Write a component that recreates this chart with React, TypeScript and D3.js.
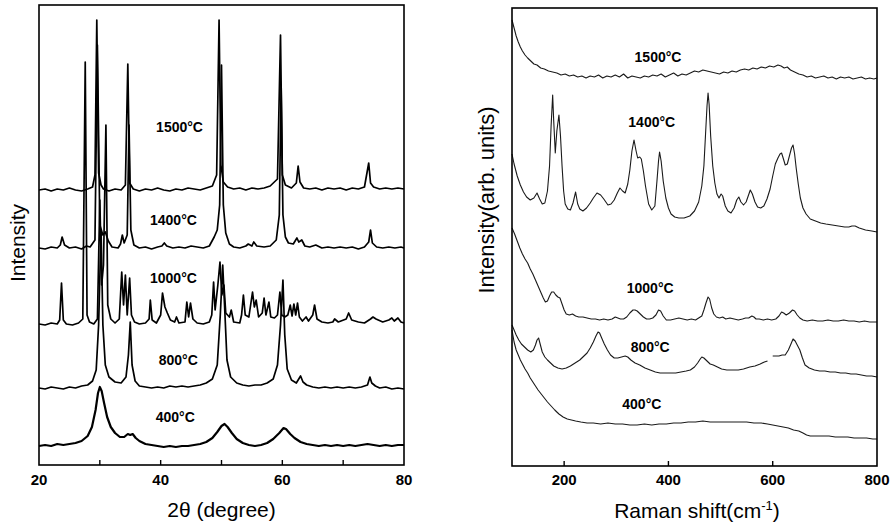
import React from 'react';
import * as d3 from 'd3';

type Pt = [number, number | null];

// XRD patterns, 2θ (degree) vs intensity (arbitrary, stacked)
const xrdNames = ['1500°C', '1400°C', '1000°C', '800°C', '400°C'];

const xrd1500: Pt[] = [
  [20, 275], [21, 276], [22, 274], [23, 276], [24, 275], [25, 277], [26, 275], [27, 274], [28, 276],
  [28.8, 278], [29.2, 290], [29.5, 445], [29.8, 292], [30.2, 280], [30.6, 276], [31.5, 274], [32.5, 276],
  [33.5, 275], [34.2, 280], [34.6, 401], [34.9, 282], [35.5, 276], [36.5, 274], [37.5, 276], [38.5, 275],
  [39.5, 277], [40.5, 275], [41.5, 274], [42.5, 276], [43.5, 275], [44.5, 277], [45.5, 276], [46.5, 275],
  [47.5, 277], [48.5, 279], [49.2, 290], [49.6, 445], [49.9, 300], [50.3, 283], [51, 278], [52, 276],
  [53, 277], [54, 275], [55, 277], [56, 276], [57, 277], [58, 279], [59.2, 286], [59.7, 430], [60.0, 290],
  [60.5, 280], [61.5, 277], [62.3, 282], [62.6, 299], [62.9, 283], [63.5, 277], [64.5, 276], [65.5, 277],
  [66.5, 275], [67.5, 277], [68.5, 276], [69.5, 277], [70.5, 275], [71.5, 277], [72.5, 276], [73.5, 278],
  [74.2, 302], [74.5, 282], [75, 278], [76, 276], [77, 277], [78, 276], [79, 277], [80, 276],
];

const xrd1400: Pt[] = [
  [20, 217], [21, 216], [22, 218], [23, 217], [23.5, 220], [23.8, 228], [24.2, 220], [25, 217], [26, 218],
  [27, 216], [27.8, 219], [28.4, 218], [29.2, 225], [29.6, 420], [30.0, 240], [30.5, 230], [30.9, 233],
  [31.4, 224], [32, 218], [33, 217], [33.4, 221], [33.7, 230], [34.0, 222], [34.5, 230], [34.8, 340],
  [35.1, 235], [35.6, 220], [36.5, 217], [37.5, 218], [38.5, 216], [39.5, 218], [40.2, 219], [40.6, 222],
  [41, 219], [42, 217], [43, 218], [44, 217], [45, 219], [46, 218], [47, 217], [48, 219], [48.8, 228],
  [49.3, 235], [49.7, 260], [50.0, 400], [50.3, 260], [50.7, 232], [51.3, 221], [52, 218], [53, 217],
  [54, 219], [54.4, 221], [55, 219], [55.3, 223], [55.8, 219], [57, 218], [58, 219], [59, 225], [59.5, 250],
  [59.8, 380], [60.1, 250], [60.5, 228], [61, 222], [61.8, 221], [62.4, 227], [62.7, 223], [63.2, 225],
  [63.7, 219], [64.5, 218], [65.5, 220], [66.5, 217], [67.5, 218], [68.5, 217], [69.5, 218], [70.5, 217],
  [71.5, 218], [72.5, 216], [73.5, 218], [74.2, 223], [74.5, 235], [74.8, 222], [75.5, 218], [76.5, 217],
  [77.5, 218], [78.5, 217], [79.5, 218], [80, 217],
];

const xrd1000: Pt[] = [
  [20, 141], [21, 140], [22, 142], [23, 141], [23.4, 145], [23.7, 182], [24.0, 145], [24.5, 141],
  [25.5, 140], [26.5, 142], [27.2, 146], [27.6, 403], [27.9, 150], [28.3, 143], [29, 141], [29.6, 146],
  [30.0, 265], [30.3, 180], [30.6, 200], [31.0, 340], [31.3, 160], [31.8, 146], [32.5, 142], [33.2, 146],
  [33.6, 193], [33.9, 160], [34.2, 190], [34.5, 150], [34.9, 187], [35.2, 150], [35.7, 143], [36.5, 141],
  [37.5, 142], [38.1, 146], [38.3, 165], [38.6, 145], [39.3, 142], [40.0, 150], [40.3, 172], [40.7, 158],
  [41.1, 152], [41.6, 145], [42.3, 143], [42.6, 148], [43, 142], [44, 143], [44.3, 163], [44.6, 148],
  [44.9, 162], [45.3, 146], [46, 142], [47, 141], [48, 143], [48.4, 150], [48.7, 183], [48.95, 155],
  [49.4, 180], [49.75, 203], [50.05, 170], [50.4, 180], [50.7, 152], [51.3, 148], [51.6, 155], [52, 143],
  [53, 142], [53.3, 150], [53.6, 170], [53.9, 150], [54.5, 148], [55.1, 173], [55.4, 158], [55.7, 165],
  [56.1, 148], [56.7, 152], [57.0, 167], [57.3, 150], [57.8, 163], [58.1, 148], [58.7, 147], [59.2, 150],
  [59.6, 173], [59.9, 150], [60.4, 148], [60.9, 150], [61.3, 160], [61.6, 149], [61.9, 161], [62.2, 150],
  [62.5, 162], [62.8, 148], [63.3, 144], [63.9, 148], [64.3, 144], [65.0, 150], [65.3, 160], [65.7, 146],
  [66.5, 143], [67.5, 142], [68.3, 143], [68.6, 146], [69.2, 143], [70.5, 146], [70.9, 152], [71.4, 145],
  [72.5, 143], [73.5, 142], [74.5, 146], [74.9, 148], [75.4, 146], [76.5, 143], [77.5, 145], [78.0, 147],
  [78.4, 144], [79.0, 147], [79.5, 143], [80, 142],
];

const xrd800: Pt[] = [
  [20, 77], [21, 76], [22, 78], [23, 77], [24, 76], [25, 78], [26, 77], [27, 79], [28, 80], [28.8, 84],
  [29.4, 95], [29.8, 140], [30.2, 235], [30.5, 140], [30.9, 100], [31.5, 88], [32.5, 83], [33.5, 82],
  [34.3, 88], [34.7, 110], [35.0, 143], [35.3, 100], [35.8, 84], [36.5, 79], [37.5, 78], [38.5, 77],
  [39.5, 78], [40.5, 77], [41.5, 79], [42.5, 78], [43.5, 79], [44.5, 78], [45.5, 79], [46.5, 80],
  [47.5, 82], [48.5, 86], [49.3, 100], [49.8, 150], [50.2, 200], [50.5, 160], [50.9, 105], [51.5, 88],
  [52.5, 82], [53.5, 80], [54.5, 79], [55.5, 80], [56.5, 80], [57.5, 82], [58.5, 86], [59.2, 100],
  [59.7, 140], [60.1, 185], [60.4, 130], [60.8, 96], [61.5, 85], [62.3, 82], [62.8, 87], [63.0, 89],
  [63.4, 83], [64, 80], [65, 78], [66, 77], [67, 78], [68, 77], [69, 78], [70, 77], [71, 78], [72, 77],
  [73, 78], [74, 80], [74.4, 88], [74.7, 82], [75.3, 79], [76, 77], [77, 78], [78, 76], [79, 77], [80, 76],
];

const xrd400: Pt[] = [
  [20, 19], [21, 20], [22, 19], [23, 21], [24, 20], [25, 21], [26, 22], [27, 24], [28, 29], [28.7, 38],
  [29.3, 55], [29.7, 72], [30.0, 78], [30.3, 74], [30.7, 62], [31.2, 48], [31.8, 38], [32.5, 32],
  [33.3, 28], [34.0, 28], [34.6, 31], [35.0, 30], [35.4, 31], [35.9, 27], [36.5, 24], [37.5, 21],
  [38.5, 20], [39.5, 19], [40.5, 18], [41.5, 19], [42.5, 18], [43.5, 19], [44.5, 19], [45.5, 20],
  [46.5, 21], [47.5, 23], [48.5, 27], [49.3, 33], [50.0, 39], [50.5, 41], [51.0, 38], [51.7, 32],
  [52.5, 26], [53.5, 22], [54.5, 20], [55.5, 19], [56.5, 20], [57.5, 22], [58.5, 26], [59.5, 32],
  [60.2, 37], [60.6, 36], [61.3, 31], [62, 27], [63, 23], [64, 21], [65, 20], [66, 19], [67, 20],
  [68, 19], [69, 20], [70, 19], [71, 20], [72, 19], [73, 20], [74, 21], [75, 20], [76, 19], [77, 20],
  [78, 19], [79, 20], [80, 20],
];

const xrdSeries = [xrd1500, xrd1400, xrd1000, xrd800, xrd400];
const xrdLabelX = [43.1, 42.1, 42.1, 42.9, 42.4];
const xrdLabelY = [338, 245, 187, 105, 48];
const xrdTicks = [30, 40, 50, 60, 70];
const xrdTickLabels = [20, 40, 60, 80];

// Raman spectra, shift (cm-1) vs intensity (arb. units)
const ramanNames = ['1500°C', '1400°C', '1000°C', '800°C', '400°C'];

const raman1500: Pt[] = [
  [100, 446], [104, 438], [108, 430], [112, 424], [116, 419], [120, 415], [125, 411], [130, 408],
  [136, 405], [142, 402], [148, 401], [155, 398], [162, 397], [170, 395], [178, 394], [186, 393],
  [194, 391], [202, 392], [210, 390], [218, 391], [226, 389], [234, 390], [242, 388], [250, 390],
  [258, 389], [266, 391], [274, 388], [282, 390], [290, 389], [298, 391], [306, 389], [314, 392],
  [322, 388], [330, 390], [338, 389], [346, 388], [354, 390], [362, 389], [370, 391], [378, 390],
  [386, 392], [394, 389], [402, 391], [410, 393], [418, 390], [426, 392], [434, 391], [442, 393],
  [450, 395], [458, 394], [466, 396], [474, 395], [482, 394], [490, 393], [498, 392], [506, 394],
  [514, 393], [522, 395], [530, 394], [538, 396], [546, 397], [554, 396], [562, 398], [570, 397],
  [578, 399], [586, 398], [594, 400], [602, 399], [610, 401], [616, 400], [622, 398], [628, 399],
  [634, 396], [642, 394], [650, 392], [658, 391], [666, 389], [674, 390], [682, 388], [690, 389],
  [698, 390], [706, 388], [714, 389], [722, 387], [730, 389], [738, 388], [746, 389], [754, 387],
  [762, 388], [770, 389], [778, 387], [786, 388], [794, 387], [800, 388],
];

const raman1400: Pt[] = [
  [100, 312], [104, 302], [110, 290], [116, 281], [122, 274], [128, 269], [135, 266], [142, 268],
  [148, 273], [153, 267], [158, 262], [163, 263], [168, 275], [172, 300], [175, 340], [178, 371],
  [180, 345], [183, 313], [186, 335], [190, 351], [193, 330], [196, 300], [199, 275], [202, 262],
  [207, 257], [212, 256], [217, 263], [222, 274], [226, 262], [230, 257], [236, 255], [243, 258],
  [250, 263], [256, 268], [263, 273], [270, 271], [276, 267], [284, 261], [290, 262], [296, 266],
  [302, 273], [307, 278], [312, 275], [317, 273], [322, 282], [326, 296], [330, 315], [334, 326],
  [338, 315], [341, 308], [345, 309], [348, 307], [352, 295], [356, 280], [362, 262], [368, 256],
  [374, 260], [378, 285], [381, 305], [383, 314], [386, 305], [390, 285], [395, 268], [400, 258],
  [405, 252], [412, 249], [420, 248], [430, 248], [441, 250], [450, 255], [458, 264], [464, 280],
  [468, 300], [471, 330], [474, 360], [476, 373], [478, 362], [481, 330], [485, 300], [489, 283],
  [493, 272], [497, 268], [501, 272], [504, 270], [509, 260], [514, 255], [520, 253], [526, 258],
  [531, 266], [535, 269], [539, 264], [544, 261], [549, 264], [553, 270], [557, 276], [561, 272],
  [566, 264], [571, 259], [577, 258], [583, 260], [589, 267], [595, 277], [600, 290], [605, 302],
  [610, 308], [614, 312], [617, 313], [620, 308], [624, 301], [628, 302], [632, 310], [636, 318],
  [639, 321], [642, 312], [645, 298], [649, 282], [653, 268], [658, 258], [664, 252], [672, 247],
  [682, 245], [692, 243], [702, 242], [714, 241], [726, 240], [738, 239], [746, 239], [752, 240],
  [758, 240], [766, 238], [778, 236], [790, 235], [800, 234],
];

const raman1000: Pt[] = [
  [100, 238], [105, 232], [110, 225], [115, 218], [120, 212], [125, 207], [130, 203], [135, 197],
  [140, 192], [145, 186], [150, 180], [155, 174], [160, 168], [164, 164], [168, 165], [172, 170],
  [176, 174], [180, 174], [184, 171], [188, 169], [192, 168], [196, 162], [200, 156], [204, 152],
  [210, 151], [216, 152], [222, 150], [228, 149], [236, 149], [244, 148], [252, 147], [260, 147],
  [268, 146], [276, 147], [284, 146], [292, 147], [298, 149], [303, 148], [308, 147], [314, 147],
  [320, 149], [326, 153], [332, 156], [336, 156], [340, 155], [346, 152], [352, 149], [358, 147],
  [364, 147], [370, 148], [376, 151], [381, 156], [385, 155], [390, 150], [396, 146], [404, 146],
  [412, 147], [420, 148], [428, 147], [436, 146], [444, 147], [452, 146], [458, 148], [464, 150],
  [468, 156], [472, 163], [476, 169], [479, 167], [483, 158], [487, 152], [492, 149], [498, 148],
  [504, 149], [510, 147], [518, 148], [526, 147], [534, 146], [542, 147], [548, 148], [554, 148],
  [560, 150], [564, 149], [568, 147], [574, 147], [582, 146], [590, 147], [598, 146], [606, 147],
  [612, 150], [617, 154], [621, 153], [626, 151], [632, 153], [638, 156], [642, 155], [647, 151],
  [652, 148], [658, 146], [666, 145], [676, 146], [686, 145], [696, 145], [706, 146], [716, 145],
  [726, 145], [736, 146], [746, 145], [756, 145], [766, 144], [776, 145], [786, 144], [800, 144],
];

const raman800: Pt[] = [
  [100, 141], [104, 136], [108, 131], [113, 126], [118, 122], [124, 119], [130, 116], [136, 114],
  [141, 116], [145, 121], [148, 126], [151, 128], [154, 122], [158, 114], [163, 109], [168, 106],
  [174, 103], [180, 100], [188, 98], [196, 97], [204, 98], [212, 100], [221, 103], [230, 106],
  [238, 110], [244, 113], [250, 118], [256, 124], [261, 130], [265, 134], [268, 133], [272, 128],
  [277, 122], [283, 116], [289, 111], [296, 108], [303, 108], [310, 109], [317, 110], [322, 109],
  [328, 106], [336, 103], [345, 101], [355, 98], [365, 96], [375, 94], [384, 93], [394, 93], [404, 93],
  [414, 93], [424, 94], [434, 95], [442, 96], [450, 99], [456, 103], [461, 107], [464, 109], [468, 108],
  [474, 105], [480, 102], [486, 101], [494, 99], [502, 97], [512, 96], [524, 96], [534, 96], [544, 97],
  [556, 99], [566, 100], [576, 102], [584, 104], [590, 105], [591, null], [600, 110], [606, 110],
  [612, 110], [618, 111], [624, 111], [630, 116], [635, 122], [639, 127], [643, 125], [647, 121],
  [652, 116], [657, 108], [662, 101], [670, 98], [680, 96], [690, 95], [700, 95], [710, 94], [720, 94],
  [730, 93], [740, 93], [750, 92], [760, 92], [770, 91], [780, 90], [790, 90], [800, 89],
];

const raman400: Pt[] = [
  [100, 136], [104, 124], [108, 116], [112, 111], [116, 106], [120, 102], [125, 97], [130, 93],
  [135, 88], [140, 84], [145, 80], [150, 76], [156, 72], [162, 68], [168, 64], [175, 60], [182, 56],
  [190, 52], [198, 49], [206, 47], [214, 46], [222, 45], [232, 44], [244, 43], [256, 43], [270, 42],
  [284, 43], [298, 42], [312, 42], [326, 41], [340, 41], [354, 42], [368, 41], [382, 42], [396, 42],
  [410, 43], [424, 43], [438, 44], [452, 44], [466, 45], [480, 44], [494, 44], [508, 44], [522, 44],
  [536, 44], [550, 44], [564, 43], [578, 43], [590, 42], [600, 41], [610, 40], [620, 39], [630, 38],
  [640, 36], [650, 35], [658, 33], [665, 31], [672, 30], [684, 30], [696, 30], [708, 30], [720, 29],
  [732, 29], [744, 29], [756, 28], [768, 28], [780, 28], [792, 27], [800, 27],
];

const ramanSeries = [raman1500, raman1400, raman1000, raman800, raman400];
const ramanLabelX = [380, 368, 365, 365, 349];
const ramanLabelY = [409, 344, 178, 119, 62];
const ramanTicks = [200, 400, 600];
const ramanTickLabels = [200, 400, 600, 800];

const FONT = '"Liberation Sans", Arial, Helvetica, sans-serif';

export default function App() {
  const W = 891;
  const H = 529;

  // left panel: XRD
  const xL = d3.scaleLinear().domain([20, 80]).range([39, 404]);
  const yL = d3.scaleLinear().domain([0, 460]).range([465, 5]);
  // right panel: Raman
  const xR = d3.scaleLinear().domain([100, 800]).range([512, 877]);
  const yR = d3.scaleLinear().domain([0, 458]).range([466, 8]);

  const lineL = d3.line<Pt>()
    .x(d => xL(d[0]))
    .y(d => yL(d[1] as number));
  const lineR = d3.line<Pt>()
    .defined(d => d[1] !== null)
    .x(d => xR(d[0]))
    .y(d => yR(d[1] as number));

  const [l0, l1] = xL.range();
  const [lb, lt] = yL.range();
  const [r0, r1] = xR.range();
  const [rb, rt] = yR.range();

  return (
    <svg width={W} height={H} style={{ position: 'absolute', left: 0, top: 0, background: '#fff' }}
      fontFamily={FONT}>
      {/* XRD panel */}
      <g>
        {xrdSeries.map((s, i) => (
          <path key={i} d={lineL(s) || ''} fill="none" stroke="#000"
            strokeWidth={i === 4 ? 2.2 : 1.7} strokeLinejoin="round" />
        ))}
        {xrdNames.map((n, i) => (
          <text key={n} x={xL(xrdLabelX[i])} y={yL(xrdLabelY[i])} dy="0.36em" textAnchor="middle"
            fontSize={14} fontWeight="bold">{n}</text>
        ))}
        <rect x={l0} y={lt} width={l1 - l0} height={lb - lt} fill="none" stroke="#000" strokeWidth={1.6} />
        {xrdTicks.map(t => (
          <line key={t} x1={xL(t)} x2={xL(t)} y1={lb} y2={lb - 5} stroke="#000" strokeWidth={1.4} />
        ))}
        {xrdTickLabels.map(t => (
          <text key={t} x={xL(t)} y={485} textAnchor="middle" fontSize={15} fontWeight="bold">{t}</text>
        ))}
        <text x={(l0 + l1) / 2} y={517} textAnchor="middle" fontSize={21}>2θ (degree)</text>
        <text transform={`translate(25,243) rotate(-90)`} textAnchor="middle" fontSize={21}>Intensity</text>
      </g>

      {/* Raman panel */}
      <g>
        {ramanSeries.map((s, i) => (
          <path key={i} d={lineR(s) || ''} fill="none" stroke="#1a1a1a" strokeWidth={1.1}
            strokeLinejoin="round" />
        ))}
        {ramanNames.map((n, i) => (
          <text key={n} x={xR(ramanLabelX[i])} y={yR(ramanLabelY[i])} dy="0.36em" textAnchor="middle"
            fontSize={14} fontWeight="bold">{n}</text>
        ))}
        <rect x={r0} y={rt} width={r1 - r0} height={rb - rt} fill="none" stroke="#000" strokeWidth={1.6} />
        {ramanTicks.map(t => (
          <line key={t} x1={xR(t)} x2={xR(t)} y1={rb} y2={rb - 5} stroke="#000" strokeWidth={1.4} />
        ))}
        {ramanTickLabels.map(t => (
          <text key={t} x={xR(t)} y={485} textAnchor="middle" fontSize={15} fontWeight="bold">{t}</text>
        ))}
        <text x={697} y={518} textAnchor="middle" fontSize={21}>
          <tspan>Raman shift(cm</tspan>
          <tspan dy={-8} fontSize={13}>-1</tspan>
          <tspan dy={8}>)</tspan>
        </text>
        <text transform={`translate(494,200) rotate(-90)`} textAnchor="middle" fontSize={22}>
          Intensity(arb. units)
        </text>
      </g>
    </svg>
  );
}
